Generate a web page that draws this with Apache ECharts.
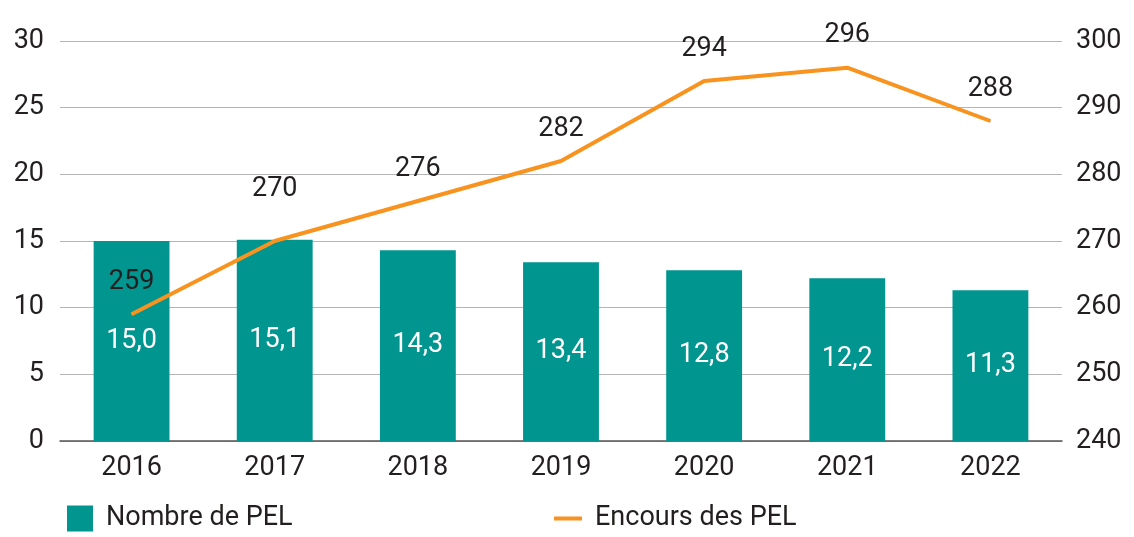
<!DOCTYPE html>
<html>
<head>
<meta charset="utf-8">
<script src="https://cdn.jsdelivr.net/npm/echarts@6/dist/echarts.min.js"></script>
<style>
  html, body { margin: 0; padding: 0; background: #fff; }
  #chart { width: 1134px; height: 537px; }
</style>
</head>
<body>
<div id="chart"></div>
<script>
// data
var years = ['2016', '2017', '2018', '2019', '2020', '2021', '2022'];
var nombrePEL = [15.0, 15.1, 14.3, 13.4, 12.8, 12.2, 11.3];
var encoursPEL = [259, 270, 276, 282, 294, 296, 288];

var FONT = "'Roboto', sans-serif";
var TEAL = '#00958f';
var ORANGE = '#f7931e';
var INK = '#231f20';

var chart = echarts.init(document.getElementById('chart'));

// the 2017 label sits a bit higher than the others in the original
var lineData = encoursPEL.map(function (v, i) {
  return i === 1 ? { value: v, label: { distance: 38 } } : v;
});

var option = {
  animation: false,
  textStyle: { fontFamily: FONT },
  grid: { left: 60, right: 72, top: 41, bottom: 96 },
  legend: [
    {
      bottom: 0,
      left: 62,
      itemWidth: 26,
      itemHeight: 26,
      itemGap: 14,
      textStyle: { fontFamily: FONT, fontSize: 27, color: INK, padding: [0, 0, 0, 8] },
      data: [{ name: 'Nombre de PEL', icon: 'rect' }]
    },
    {
      bottom: 0,
      left: 549,
      itemWidth: 28,
      itemHeight: 4,
      textStyle: { fontFamily: FONT, fontSize: 27, color: INK, padding: [0, 0, 0, 8] },
      data: [{ name: 'Encours des PEL', icon: 'rect' }]
    }
  ],
  xAxis: {
    type: 'category',
    data: years,
    axisTick: { show: false },
    axisLine: { lineStyle: { color: '#555', width: 1.5 } },
    axisLabel: { fontFamily: FONT, fontSize: 27, color: INK, margin: 14 }
  },
  yAxis: [
    {
      type: 'value',
      min: 0, max: 30, interval: 5,
      axisLabel: { fontFamily: FONT, fontSize: 27, color: INK, margin: 16 },
      splitLine: { lineStyle: { color: '#b5b5b5', width: 1 } },
      axisLine: { show: false },
      axisTick: { show: false }
    },
    {
      type: 'value',
      min: 240, max: 300, interval: 10,
      position: 'right',
      axisLabel: { fontFamily: FONT, fontSize: 27, color: INK, margin: 14 },
      splitLine: { show: false },
      axisLine: { show: false },
      axisTick: { show: false }
    }
  ],
  series: [
    {
      name: 'Nombre de PEL',
      type: 'bar',
      yAxisIndex: 0,
      data: nombrePEL,
      barWidth: '53%',
      itemStyle: { color: TEAL },
      label: {
        show: true,
        position: 'inside',
        color: '#fff',
        fontFamily: FONT,
        fontSize: 27,
        formatter: function (p) { return p.value.toFixed(1).replace('.', ','); }
      }
    },
    {
      name: 'Encours des PEL',
      type: 'line',
      yAxisIndex: 1,
      data: lineData,
      symbol: 'circle',
      symbolSize: 1,
      showSymbol: true,
      lineStyle: { color: ORANGE, width: 4 },
      itemStyle: { color: ORANGE },
      z: 5,
      label: {
        show: true,
        position: 'top',
        distance: 18,
        color: INK,
        fontFamily: FONT,
        fontSize: 27
      }
    }
  ]
};

chart.setOption(option);
</script>
</body>
</html>
